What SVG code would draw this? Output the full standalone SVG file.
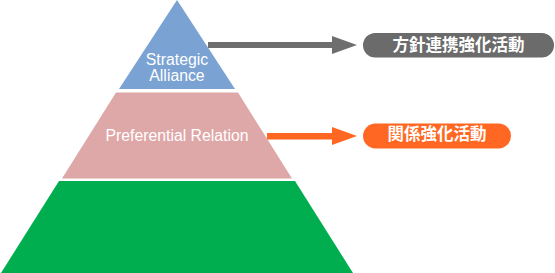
<svg xmlns="http://www.w3.org/2000/svg" width="555" height="273" viewBox="0 0 555 273">
<style>
.lbl{font-family:"Liberation Sans",Arial,sans-serif;font-size:15.8px;fill:#ffffff;text-anchor:middle}
.jp{font-family:"Noto Sans CJK JP","Noto Sans CJK SC",sans-serif;font-size:16.5px;font-weight:bold;fill:#ffffff;text-anchor:middle}
</style>
<rect width="555" height="273" fill="#ffffff"/>
<g id="layer-top">
<polygon points="177,0 235,89 119,89" fill="#7AA3D4"/>
<text class="lbl" x="177" y="65">Strategic</text>
<text class="lbl" x="177" y="81">Alliance</text>
</g>
<g id="layer-middle">
<polygon points="116,92.5 238,92.5 292,178.5 62,178.5" fill="#DFA8A8"/>
<text class="lbl" x="177" y="141">Preferential Relation</text>
</g>
<g id="layer-bottom">
<polygon points="59,181 295,181 353,273 1,273" fill="#00AE50"/>
</g>
<g id="connectors">
<rect x="208" y="42" width="125" height="6" fill="#6E6E6E"/>
<polygon points="332,36 357,45 332,54" fill="#6E6E6E"/>
<rect x="267" y="133" width="66" height="6.5" fill="#FF6722"/>
<polygon points="332,127 357,136 332,145" fill="#FF6722"/>
</g>
<g id="label-gray">
<rect x="363" y="33" width="191" height="24.5" rx="12.25" fill="#6B6B6B"/>
<text class="jp" x="458.5" y="51">方針連携強化活動</text>
</g>
<g id="label-orange">
<rect x="363" y="123.5" width="148" height="25" rx="12.5" fill="#FF6722"/>
<text class="jp" x="437" y="140">関係強化活動</text>
</g>
</svg>
